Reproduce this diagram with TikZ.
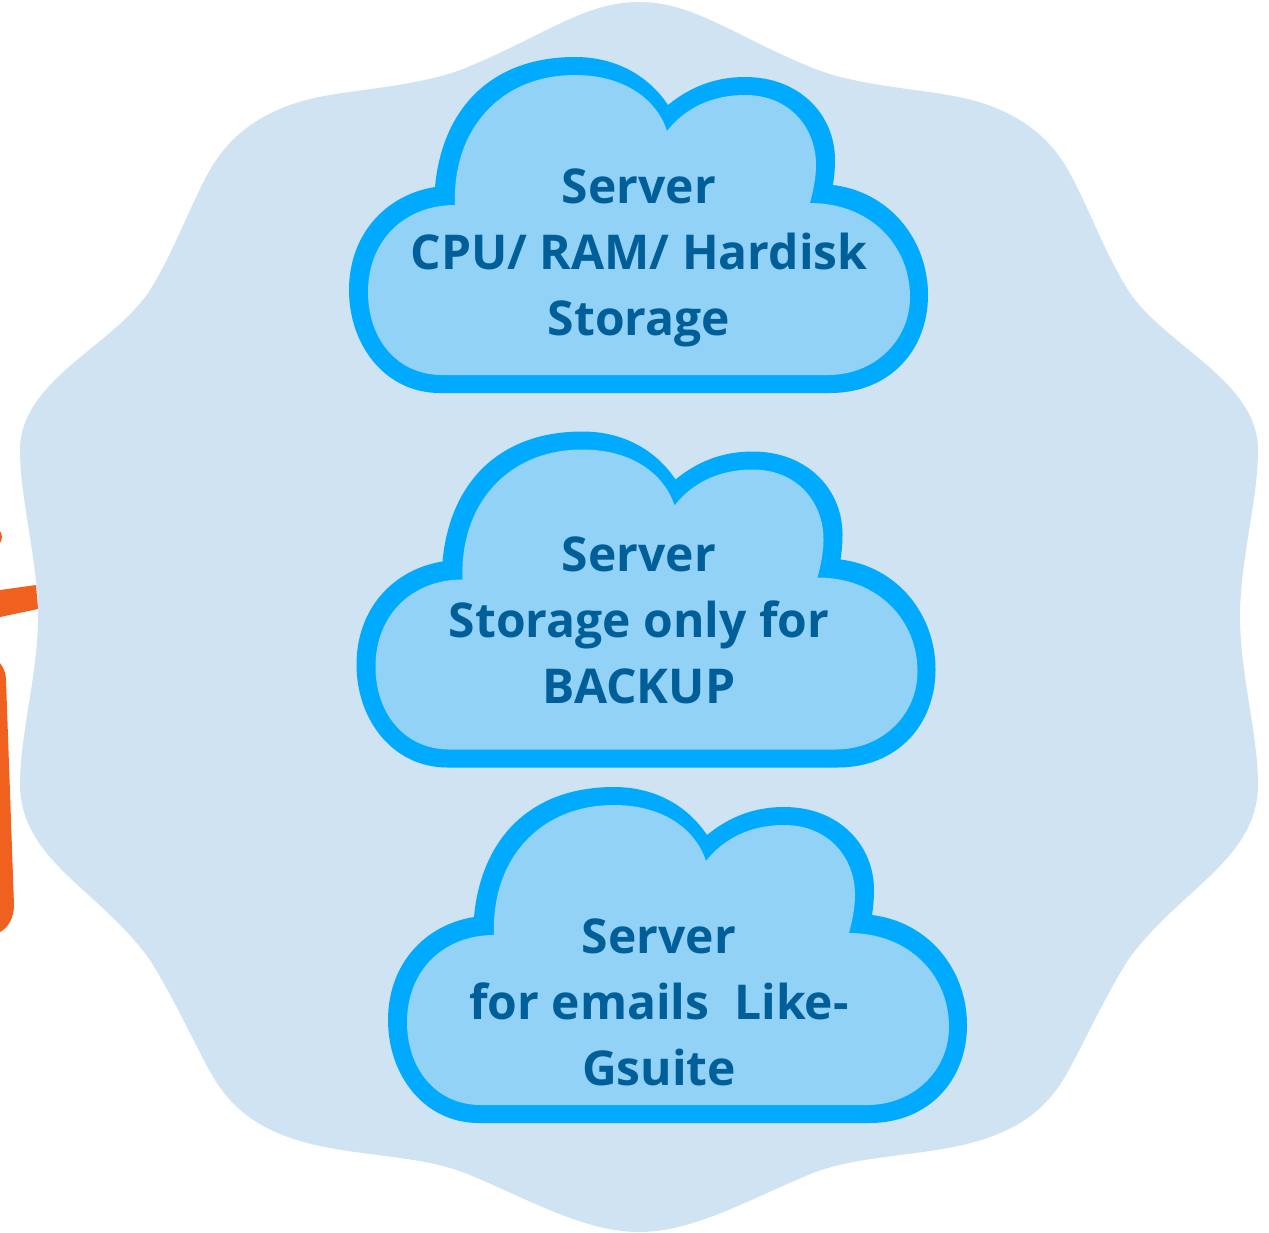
\documentclass[tikz,border=0pt]{standalone}
\usepackage{fontspec}
\setmainfont{Open Sans}
\definecolor{blobc}{HTML}{D0E3F3}
\definecolor{rimc}{HTML}{00AAFF}
\definecolor{fillc}{HTML}{92D2F7}
\definecolor{textc}{HTML}{005F99}
\definecolor{orangec}{HTML}{F0611F}
\newcommand{\cloudshape}[2]{%
\begin{scope}[shift={(#1,#2)}]
\fill[rimc] (440,393) .. controls (385,393) and (349,345) .. (349,290)
 .. controls (349,235) and (385,195) .. (435,187)
 .. controls (442,110) and (490,57) .. (575,57)
 .. controls (615,57) and (648,75) .. (668,105)
 .. controls (690,87) and (715,77) .. (745,77)
 .. controls (800,77) and (835,115) .. (835,160)
 .. controls (835,170) and (834,178) .. (833,185)
 .. controls (890,192) and (928,240) .. (928,295)
 .. controls (928,350) and (890,393) .. (830,393) -- cycle;
\fill[fillc] (442,375) .. controls (398,375) and (368,340) .. (368,292)
 .. controls (368,240) and (405,205) .. (455,205)
 .. controls (452,130) and (500,75) .. (575,75)
 .. controls (625,75) and (657,100) .. (667,131)
 .. controls (685,108) and (712,95) .. (745,95)
 .. controls (790,95) and (816,128) .. (816,165)
 .. controls (816,178) and (813,192) .. (810,203)
 .. controls (870,203) and (910,245) .. (910,297)
 .. controls (910,340) and (875,375) .. (828,375) -- cycle;
\end{scope}}
\tikzset{cloudtext/.style={text=textc,font=\fontsize{28.8}{39.6}\selectfont\bfseries,align=center,inner sep=0pt}}
\begin{document}
\begin{tikzpicture}[x=0.6pt,y=-0.6pt]
\useasboundingbox (0,0) rectangle (1269,1232);
\fill[blobc] (639,2)
 .. controls (585,2) and (545,35) .. (470,66)
 .. controls (430,84) and (370,88) .. (330,95)
 .. controls (280,103) and (235,125) .. (210,170)
 .. controls (190,205) and (175,250) .. (150,290)
 .. controls (115,345) and (20,380) .. (20,450)
 .. controls (20,500) and (38,560) .. (38,617)
 .. controls (38,674) and (20,734) .. (20,784)
 .. controls (20,860) and (100,890) .. (150,960)
 .. controls (175,1000) and (195,1045) .. (212,1075)
 .. controls (235,1115) and (270,1137) .. (330,1148)
 .. controls (380,1157) and (430,1158) .. (470,1175)
 .. controls (530,1200) and (585,1232) .. (639,1232)
 .. controls (693,1232) and (748,1200) .. (808,1175)
 .. controls (848,1158) and (898,1157) .. (948,1148)
 .. controls (1008,1137) and (1043,1115) .. (1066,1075)
 .. controls (1083,1045) and (1103,1000) .. (1128,960)
 .. controls (1178,890) and (1258,860) .. (1258,784)
 .. controls (1258,734) and (1240,674) .. (1240,617)
 .. controls (1240,560) and (1258,500) .. (1258,450)
 .. controls (1258,380) and (1163,345) .. (1128,290)
 .. controls (1103,250) and (1088,205) .. (1068,170)
 .. controls (1043,125) and (998,103) .. (948,95)
 .. controls (908,88) and (848,84) .. (808,66)
 .. controls (733,35) and (693,2) .. (639,2) -- cycle;
\fill[orangec] (0,590) -- (36,585) -- (38,609) -- (0,617) -- cycle;
\fill[orangec] (-8,537) circle[radius=10];
\fill[orangec] (0,663) .. controls (4,668) and (6,674) .. (6,680) -- (14,905) .. controls (14,918) and (8,928) .. (0,932) -- cycle;
\cloudshape{0}{0}
\cloudshape{7.5}{374.5}
\cloudshape{39}{730}
\node[cloudtext] (c1) at (639,258) {Server\\CPU/ RAM/ Hardisk\\Storage};
\node[cloudtext] (c2) at (639,620) {Server\\Storage only for\\BACKUP};
\node[cloudtext] (c3) at (659,1002) {Server\\for emails\ \ Like-\\Gsuite};
\end{tikzpicture}
\end{document}
